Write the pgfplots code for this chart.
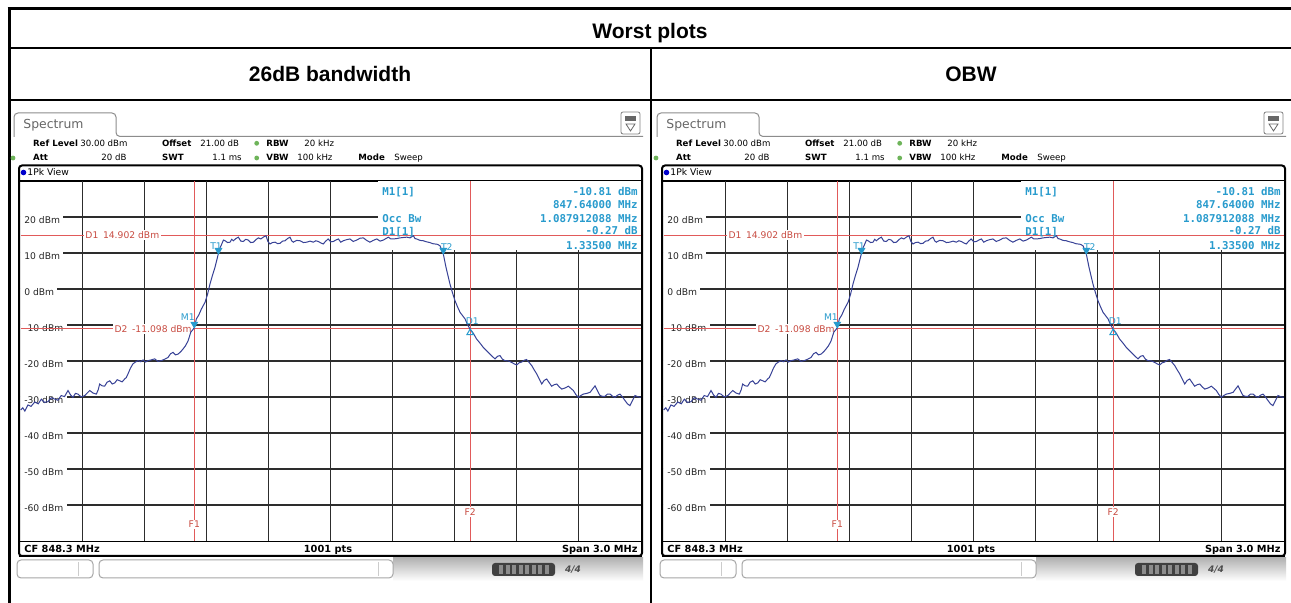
\documentclass[border=0pt]{standalone}
\usepackage{pgfplots}
\pgfplotsset{compat=1.18}
\usepackage{pgfplotstable}
\usepackage{fontspec}
\setmainfont{Liberation Sans}
\newfontfamily\dv{DejaVu Sans}
\newfontfamily\dvm{DejaVu Sans Mono}

\definecolor{trc}{RGB}{55,65,150}
\definecolor{mk}{RGB}{40,155,205}
\definecolor{rl}{RGB}{225,90,90}
\definecolor{rt}{RGB}{200,75,65}
\definecolor{gdot}{RGB}{110,180,90}
\definecolor{grd}{RGB}{45,45,45}

\newcommand\fs[1]{\fontsize{#1}{#1}\selectfont}

% spectrum trace, MHz / dBm
\pgfplotstableread{
f db
846.800 -33.6
846.810 -33.0
846.820 -33.9
846.835 -32.2
846.850 -32.6
846.868 -31.4
846.885 -31.9
846.900 -30.6
846.915 -31.5
846.932 -31.3
846.948 -30.2
846.965 -30.6
846.980 -30.9
846.996 -29.6
847.012 -29.9
847.029 -28.2
847.041 -29.4
847.053 -30.1
847.065 -29.0
847.077 -29.2
847.093 -30.0
847.110 -29.6
847.122 -28.9
847.134 -28.2
847.150 -28.9
847.166 -29.2
847.175 -28.0
847.182 -26.4
847.194 -26.9
847.206 -27.0
847.218 -25.9
847.231 -25.5
847.243 -26.4
847.255 -26.1
847.267 -25.2
847.279 -25.5
847.291 -25.8
847.303 -25.0
847.311 -24.6
847.319 -23.6
847.331 -22.0
847.343 -20.8
847.355 -20.3
847.368 -19.9
847.380 -20.2
847.392 -19.7
847.404 -20.3
847.416 -19.9
847.432 -19.7
847.448 -19.4
847.464 -20.1
847.480 -19.9
847.497 -19.5
847.513 -19.0
847.525 -18.0
847.537 -17.6
847.549 -18.3
847.561 -18.1
847.573 -17.5
847.585 -16.7
847.597 -15.8
847.610 -14.4
847.623 -12.0
847.640 -10.8
847.650 -8.3
847.662 -7.2
847.674 -5.6
847.692 -3.7
847.704 -1.5
847.716 1.4
847.728 3.8
847.740 6.0
847.756 9.7
847.765 11.5
847.773 12.5
847.781 13.6
847.789 13.4
847.801 12.9
847.813 13.0
847.821 13.8
847.829 13.4
847.841 14.0
847.853 14.4
847.865 13.3
847.877 13.2
847.889 13.8
847.901 13.6
847.913 12.9
847.926 13.0
847.938 13.7
847.950 14.2
847.962 13.9
847.974 14.4
847.987 14.8
847.996 13.2
848.006 12.5
848.018 12.9
848.031 13.0
848.043 12.6
848.055 12.7
848.067 13.3
848.079 13.4
848.091 14.0
848.103 14.4
848.111 13.4
848.119 13.0
848.135 13.5
848.152 13.4
848.168 12.9
848.184 13.0
848.200 13.3
848.216 13.0
848.228 13.4
848.240 13.2
848.252 12.8
848.264 12.5
848.276 13.3
848.288 13.9
848.300 13.1
848.313 13.2
848.325 13.6
848.337 13.9
848.349 13.0
848.361 13.4
848.377 13.7
848.393 13.9
848.409 13.2
848.426 13.6
848.442 14.1
848.458 14.2
848.474 13.5
848.490 13.0
848.506 13.5
848.523 13.9
848.539 13.3
848.555 13.6
848.567 14.0
848.579 14.4
848.591 13.9
848.603 13.9
848.619 14.0
848.635 14.2
848.651 14.3
848.668 14.4
848.684 14.2
848.700 14.8
848.708 14.0
848.716 13.9
848.732 13.5
848.748 13.4
848.764 13.1
848.780 12.9
848.793 12.6
848.805 12.5
848.817 12.4
848.829 12.0
848.845 9.7
848.858 6.0
848.877 1.4
848.889 -1.0
848.901 -3.2
848.914 -5.0
848.926 -6.5
848.938 -7.4
848.950 -8.3
848.962 -9.9
848.974 -11.1
848.990 -12.3
849.006 -13.9
849.022 -15.0
849.038 -16.2
849.055 -17.2
849.071 -18.1
849.083 -18.8
849.095 -19.4
849.107 -18.7
849.119 -18.5
849.131 -19.5
849.143 -19.9
849.160 -20.0
849.176 -20.4
849.188 -20.8
849.200 -21.1
849.212 -20.5
849.224 -20.3
849.236 -19.8
849.248 -19.6
849.260 -20.4
849.273 -21.3
849.285 -22.5
849.297 -23.6
849.309 -25.0
849.321 -26.4
849.333 -25.4
849.345 -25.0
849.357 -26.0
849.369 -27.0
849.381 -26.6
849.394 -26.4
849.406 -27.2
849.418 -27.8
849.434 -27.5
849.450 -27.0
849.462 -27.6
849.474 -28.2
849.486 -29.3
849.498 -30.1
849.510 -29.6
849.522 -29.2
849.539 -29.0
849.555 -28.7
849.567 -27.8
849.579 -26.9
849.591 -28.3
849.603 -29.6
849.615 -29.8
849.627 -29.8
849.639 -29.2
849.652 -29.2
849.664 -29.8
849.676 -30.1
849.688 -29.5
849.700 -29.2
849.712 -30.0
849.724 -31.0
849.736 -31.9
849.748 -32.4
849.760 -31.0
849.772 -29.6
849.785 -29.9
849.797 -30.1
849.800 -30.0
}\trace

\newcommand\ylab[1]{\node[anchor=west, fill=white, inner xsep=1.6pt, inner ysep=0.5pt,
  text=black!85, font=\dv\fs{4.6pt}, text height=1.5ex, text depth=0.2ex] at (axis cs:846.8,#1) {#1 dBm};}
\tikzset{info/.style={text=mk, font=\dvm\bfseries\fs{5.4pt}, inner sep=0.5pt, text height=1.5ex, text depth=0.3ex},
  mlab/.style={text=mk, font=\dv\fs{4.6pt}, inner sep=0pt}}

% one analyser screenshot, #1 = x offset in px
\newcommand\screen[1]{%
\begin{scope}[xshift=#1*0.5pt]
  \draw[black!45, line width=0.5pt, rounded corners=2pt] (14,137) -- (14,113) -- (116,113) -- (116,136.5) -- (643,136.5);
  \node[anchor=base west, inner sep=0, text=black!60, font=\dv\fs{6.2pt}] at (23,128.5) {Spectrum};
  \draw[black!50, line width=0.4pt, rounded corners=1pt] (621,112) rectangle (640,134);
  \fill[black!60] (625,116) rectangle (636,121);
  \draw[black!60, line width=0.4pt] (626,124) -- (635,124) -- (630.5,131) -- cycle;
  \begin{scope}[font=\dv\fs{4.3pt}, every node/.style={inner sep=0, anchor=base west}]
    \node at (32.7,146.5) {\bfseries Ref Level};
    \node at (80,146.5) {30.00 dBm};
    \node at (161.7,146.5) {\bfseries Offset};
    \node at (200,146.5) {21.00 dB};
    \node at (266,146.5) {\bfseries RBW};
    \node at (304,146.5) {20 kHz};
    \node at (32.7,161) {\bfseries Att};
    \node at (101,161) {20 dB};
    \node at (161.7,161) {\bfseries SWT};
    \node at (212,161) {1.1 ms};
    \node at (266,161) {\bfseries VBW};
    \node at (297,161) {100 kHz};
    \node at (358,161) {\bfseries Mode};
    \node at (394,161) {Sweep};
  \end{scope}
  \fill[gdot] (256.7,143.3) circle[radius=2.4];
  \fill[gdot] (256.7,158) circle[radius=2.4];
  \fill[gdot] (13,158) circle[radius=2.4];
  \draw[line width=1pt, rounded corners=1.5pt] (19,165.5) rectangle (642,556);
  \fill[blue!80!black] (23.5,172.5) circle[radius=2.8];
  \node[anchor=base west, inner sep=0, font=\dv\fs{4.6pt}] at (27,175.8) {1Pk View};
  \draw[line width=0.6pt] (19,181) -- (642,181);
  \draw[line width=0.6pt] (19,541.5) -- (642,541.5);
  \draw[line width=1.4pt] (19,556) -- (642,556);
  \begin{scope}[font=\dv\bfseries\fs{4.9pt}, every node/.style={inner sep=0}]
    \node[anchor=base west] at (24,552.5) {CF 848.3 MHz};
    \node[anchor=base] at (328,552.5) {1001 pts};
    \node[anchor=base east] at (638,552.5) {Span 3.0 MHz};
  \end{scope}
  \shade[top color=black!30, bottom color=white] (393,558) rectangle (643,581);
  \draw[black!35, line width=0.5pt, rounded corners=2pt] (17,560) rectangle (93,578);
  \draw[black!20, line width=0.5pt] (78,562) -- (78,576);
  \draw[black!35, line width=0.5pt, rounded corners=2pt, fill=white] (99,560) rectangle (393,578);
  \draw[black!20, line width=0.5pt] (378,562) -- (378,576);
  \fill[black!75, rounded corners=1.5pt] (492,563) rectangle (555,576);
  \foreach \i in {0,...,7} \fill[black!45] (499+\i*6.5,565) rectangle (503+\i*6.5,574);
  \node[inner sep=0, text=black!70, font=\dv\bfseries\itshape\fs{4.5pt}] at (573,569.5) {4/4};
\end{scope}
\begin{axis}[at={(#1*0.5pt+10.35pt,-90.5pt)}, anchor=north west,
  scale only axis, width=310pt, height=180pt,
  xmin=846.8, xmax=849.8, ymin=-70, ymax=30,
  xtick={847.1,847.4,847.7,848.0,848.3,848.6,848.9,849.2,849.5},
  ytick={-60,-50,...,20},
  xticklabels={}, yticklabels={}, major tick length=0pt,
  grid=major, major grid style={draw=grd, line width=0.55pt},
  axis line style={draw=none}, clip=false]
  \ylab{20}\ylab{10}\ylab{0}\ylab{-10}\ylab{-20}\ylab{-30}\ylab{-40}\ylab{-50}\ylab{-60}
  \fill[white] (axis cs:848.529,10.8) rectangle (axis cs:849.8,30);
  \draw[rl, line width=0.55pt] (axis cs:846.8,14.902) -- (axis cs:849.8,14.902);
  \draw[rl, line width=0.55pt] (axis cs:846.8,-11.098) -- (axis cs:849.8,-11.098);
  \draw[rl, line width=0.55pt] (axis cs:847.64,-70) -- (axis cs:847.64,30);
  \draw[rl, line width=0.55pt] (axis cs:848.975,-70) -- (axis cs:848.975,30);
  \node[anchor=west, xshift=0.5pt, fill=white, inner sep=0.7pt, text=rt, font=\dv\fs{4.6pt}] at (axis cs:847.1,14.902) {D1\enspace 14.902 dBm};
  \node[anchor=east, xshift=-0.4pt, fill=white, inner sep=0.7pt, text=rt, font=\dv\fs{4.6pt}] at (axis cs:847.64,-11.098) {D2\enspace -11.098 dBm};
  \node[fill=white, inner sep=0.6pt, text=rt, font=\dv\fs{4.6pt}] at (axis cs:847.64,-65.3) {F1};
  \node[fill=white, inner sep=0.8pt, text=rt, font=\dv\fs{4.6pt}] at (axis cs:848.975,-62.0) {F2};
  \addplot[trc, line width=0.5pt] table[x=f, y=db] {\trace};
  \addplot[only marks, mark=triangle*, mark size=1.9pt,
    mark options={fill=mk, draw=mk, yshift=1.9pt, rotate=180}]
    coordinates {(847.64,-10.81) (847.757,9.7) (848.845,9.7)};
  \addplot[only marks, mark=triangle, mark size=1.9pt,
    mark options={draw=mk, line width=0.5pt, yshift=-1.9pt}]
    coordinates {(848.975,-11.08)};
  \node[mlab] at (axis cs:847.609,-7.8) {M1};
  \node[mlab] at (axis cs:847.745,11.9) {T1};
  \node[mlab] at (axis cs:848.862,11.7) {T2};
  \node[mlab] at (axis cs:848.985,-9.0) {D1};
  \node[info, anchor=west] at (axis cs:848.543,27.78) {M1[1]};
  \node[info, anchor=west] at (axis cs:848.543,20.28) {Occ Bw};
  \node[info, anchor=west] at (axis cs:848.543,16.67) {D1[1]};
  \node[info, anchor=east] at (axis cs:849.792,27.78) {-10.81 dBm};
  \node[info, anchor=east] at (axis cs:849.792,24.03) {847.64000 MHz};
  \node[info, anchor=east] at (axis cs:849.792,20.28) {1.087912088 MHz};
  \node[info, anchor=east, fill=white, inner ysep=0pt, text height=1.1ex, text depth=0pt] at (axis cs:849.792,16.67) {-0.27 dB};
  \node[info, anchor=east] at (axis cs:849.792,12.78) {1.33500 MHz};
\end{axis}
}

\begin{document}
\begin{tikzpicture}[x=0.5pt, y=-0.5pt]
  \path[use as bounding box, fill=white] (0,0) rectangle (1291,603);
  \draw[line width=1.5pt] (7.5,9) -- (1291,9);
  \draw[line width=1.5pt] (9,8) -- (9,603);
  \draw[line width=1pt] (8,48) -- (1291,48);
  \draw[line width=1pt] (8,100) -- (1291,100);
  \draw[line width=1pt] (651,48) -- (651,603);
  \node[anchor=base, font=\bfseries\fs{10.5pt}, inner sep=0] at (650,39) {Worst plots};
  \node[anchor=base, font=\bfseries\fs{10.5pt}, inner sep=0] at (330,82) {26dB bandwidth};
  \node[anchor=base, font=\bfseries\fs{10.5pt}, inner sep=0] at (971,82) {OBW};
  \screen{0}
  \screen{643}
\end{tikzpicture}
\end{document}
